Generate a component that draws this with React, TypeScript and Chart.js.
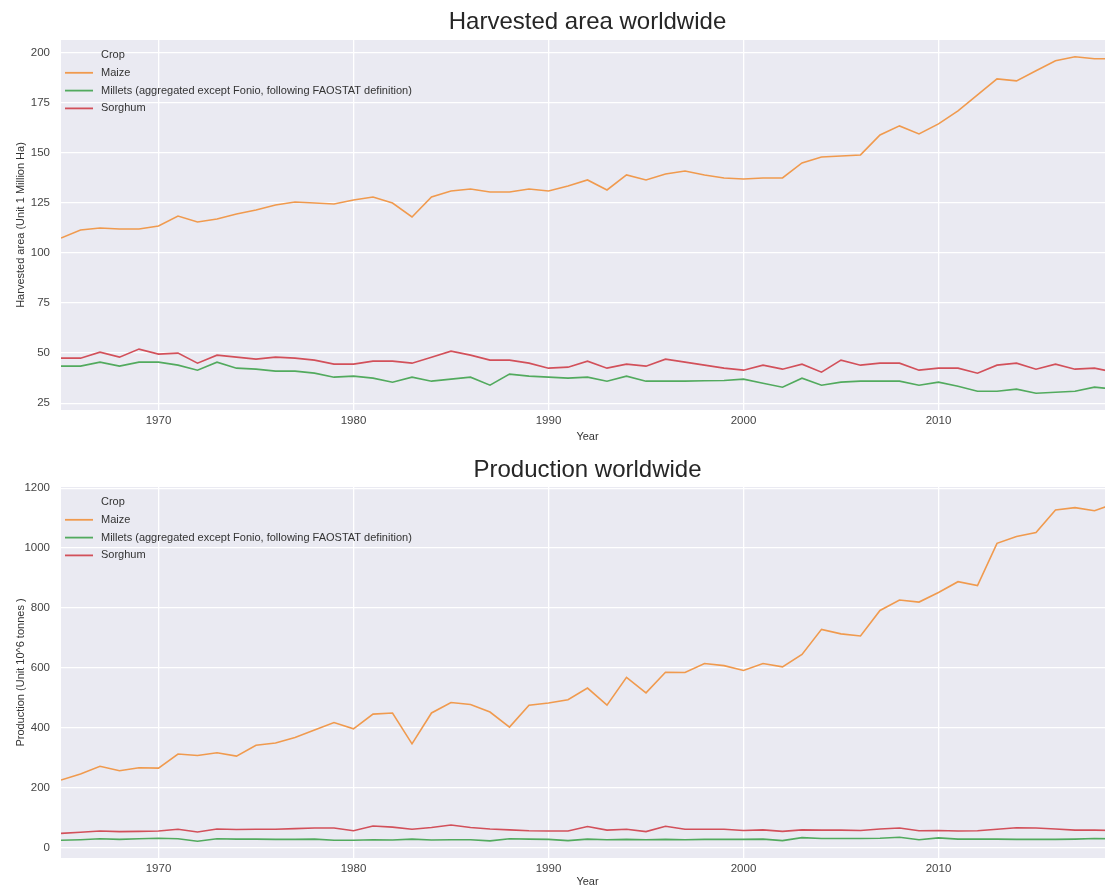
import React, { useEffect, useRef } from "react";
import { Chart, registerables } from "chart.js";

Chart.register(...registerables);

const years = [
  1965, 1966, 1967, 1968, 1969, 1970, 1971, 1972, 1973, 1974,
  1975, 1976, 1977, 1978, 1979, 1980, 1981, 1982, 1983, 1984,
  1985, 1986, 1987, 1988, 1989, 1990, 1991, 1992, 1993, 1994,
  1995, 1996, 1997, 1998, 1999, 2000, 2001, 2002, 2003, 2004,
  2005, 2006, 2007, 2008, 2009, 2010, 2011, 2012, 2013, 2014,
  2015, 2016, 2017, 2018, 2019,
];

const crops = [
  "Maize",
  "Millets (aggregated except Fonio, following FAOSTAT definition)",
  "Sorghum",
];

const maizeArea = [
  107.5, 111.5, 112.5, 112, 112, 113.5, 118.5, 115.5, 117, 119.5,
  121.5, 124, 125.5, 125, 124.5, 126.5, 128, 125, 118, 128,
  131, 132, 130.5, 130.5, 132, 131, 133.5, 136.5, 131.5, 139,
  136.5, 139.5, 141, 139, 137.5, 137, 137.5, 137.5, 145, 148,
  148.5, 149, 159, 163.5, 159.5, 164.5, 171, 179, 187, 186,
  191, 196, 198, 197, 197,
];
const milletArea = [
  43.5, 43.5, 45.5, 43.5, 45.5, 45.5, 44, 41.5, 45.5, 42.5,
  42, 41, 41, 40, 38, 38.5, 37.5, 35.5, 38, 36,
  37, 38, 34, 39.5, 38.5, 38, 37.5, 38, 36, 38.5,
  36, 36, 36, 36.2, 36.3, 37, 35, 33, 37.5, 34,
  35.5, 36, 36, 36, 34, 35.5, 33.5, 31, 31, 32,
  30, 30.5, 31, 33, 32,
];
const sorghumArea = [
  47.5, 47.5, 50.5, 48, 52, 49.5, 50, 45, 49, 48,
  47, 48, 47.5, 46.5, 44.5, 44.5, 46, 46, 45, 48,
  51, 49, 46.5, 46.5, 45, 42.5, 43, 46, 42.5, 44.5,
  43.5, 47, 45.5, 44, 42.5, 41.5, 44, 42, 44.5, 40.5,
  46.5, 44, 45, 45, 41.5, 42.5, 42.5, 40, 44, 45,
  42, 44.5, 42, 42.5, 40.5,
];

const maizeProd = [
  226, 246, 272, 257, 267, 266, 313, 308, 317, 306,
  342, 350, 368, 393, 418, 397, 446, 450, 347, 450,
  485, 478, 453, 403, 476, 483, 494, 533, 476, 569,
  517, 586, 585, 615, 608, 592, 615, 604, 645, 729,
  714, 707, 792, 827, 820, 852, 888, 875, 1016, 1039,
  1052, 1127, 1135, 1125, 1148,
];
const milletProd = [
  25, 27, 30, 28, 30, 32, 30, 22, 30, 29,
  29, 28, 28, 29, 25, 25, 27, 26, 29, 26,
  27, 27, 23, 30, 29, 28, 24, 29, 27, 28,
  27, 28, 27, 28, 28, 28, 29, 24, 34, 31,
  31, 31, 32, 35, 27, 33, 29, 29, 29, 28,
  28, 28, 29, 31, 30,
];
const sorghumProd = [
  48, 52, 56, 54, 55, 56, 62, 53, 63, 61,
  62, 62, 64, 66, 66, 57, 73, 69, 62, 68,
  76, 68, 63, 60, 57, 56, 56, 71, 59, 62,
  54, 72, 62, 62, 62, 58, 60, 55, 60, 59,
  59, 58, 63, 66, 57, 58, 56, 57, 62, 67,
  66, 63, 59, 59, 58,
];

const xTicks = [1970, 1980, 1990, 2000, 2010];
const areaTicks = [25, 50, 75, 100, 125, 150, 175, 200];
const prodTicks = [0, 200, 400, 600, 800, 1000, 1200];

const colors = ["#F09A4E", "#52AA5E", "#D2505A"];
const FONT = "'Liberation Sans', Arial, sans-serif";
const TEXT = "#333333";

function makeLegendPlugin() {
  return {
    id: "insideLegend",
    afterDraw(chart: any) {
      const { ctx, chartArea } = chart;
      const x0 = chartArea.left;
      const y0 = chartArea.top + 15;
      const step = 17.8;
      ctx.save();
      ctx.font = `11px ${FONT}`;
      ctx.fillStyle = TEXT;
      ctx.textBaseline = "middle";
      ctx.textAlign = "left";
      ctx.fillText("Crop", x0 + 40, y0);
      crops.forEach((c, i) => {
        const y = y0 + step * (i + 1);
        ctx.strokeStyle = colors[i];
        ctx.lineWidth = 1.8;
        ctx.beginPath();
        ctx.moveTo(x0 + 4, y);
        ctx.lineTo(x0 + 32, y);
        ctx.stroke();
        ctx.fillStyle = TEXT;
        ctx.fillText(c, x0 + 40, y);
      });
      ctx.restore();
    },
  };
}

const bgPlugin = {
  id: "bg",
  beforeDraw(chart: any) {
    const { ctx, chartArea } = chart;
    ctx.save();
    ctx.fillStyle = "#EAEAF2";
    ctx.fillRect(
      chartArea.left,
      chartArea.top,
      chartArea.right - chartArea.left,
      chartArea.bottom - chartArea.top
    );
    ctx.restore();
  },
};

type PanelProps = {
  title: string;
  yTitle: string;
  series: number[][];
  yMin: number;
  yMax: number;
  yTicks: number[];
  titlePad: { top: number; bottom: number };
  xAxisHeight: number;
};

function Panel(props: PanelProps) {
  const ref = useRef<HTMLCanvasElement | null>(null);
  useEffect(() => {
    if (!ref.current) return;
    const datasets = props.series.map((vals, i) => ({
      label: crops[i],
      data: years.map((yr, j) => ({ x: yr, y: vals[j] })),
      borderColor: colors[i],
      backgroundColor: colors[i],
      borderWidth: 1.6,
      pointRadius: 0,
      tension: 0,
      fill: false,
    }));
    const chart = new Chart(ref.current, {
      type: "line",
      data: { datasets },
      options: {
        animation: false,
        responsive: false,
        maintainAspectRatio: false,
        layout: { padding: { left: 0, right: 10, top: 0, bottom: 0 } },
        plugins: {
          legend: { display: false },
          tooltip: { enabled: false },
          title: {
            display: true,
            text: props.title,
            fullSize: false,
            color: "#262626",
            font: { family: FONT, size: 24, weight: "normal" },
            padding: props.titlePad,
          },
        },
        scales: {
          x: {
            type: "linear",
            min: 1965,
            max: 2019,
            afterBuildTicks: (axis: any) => {
              axis.ticks = xTicks.map((v) => ({ value: v }));
            },
            afterFit: (axis: any) => {
              axis.height = props.xAxisHeight;
            },
            ticks: {
              color: "#444",
              padding: 4,
              font: { family: FONT, size: 11.5 },
              callback: (v: any) => String(v),
              maxRotation: 0,
            },
            grid: { color: "#FFFFFF", lineWidth: 1.3, drawTicks: false },
            border: { display: false },
            title: {
              display: true,
              text: "Year",
              color: "#333",
              font: { family: FONT, size: 11 },
              padding: { top: 0, bottom: 1 },
            },
          },
          y: {
            type: "linear",
            min: props.yMin,
            max: props.yMax,
            afterBuildTicks: (axis: any) => {
              axis.ticks = props.yTicks.map((v) => ({ value: v }));
            },
            afterFit: (axis: any) => {
              axis.width = 61;
            },
            ticks: {
              color: "#444",
              padding: 11,
              font: { family: FONT, size: 11.5 },
              callback: (v: any) => String(v),
            },
            grid: { color: "#FFFFFF", lineWidth: 1.3, drawTicks: false },
            border: { display: false },
            title: {
              display: true,
              text: props.yTitle,
              color: "#333",
              font: { family: FONT, size: 11 },
              padding: { top: 14, bottom: 0 },
            },
          },
        },
      },
      plugins: [bgPlugin, makeLegendPlugin()],
    } as any);
    return () => chart.destroy();
  }, []);
  return (
    <canvas
      ref={ref}
      width={1124}
      height={445}
      style={{ display: "block", width: 1124, height: 445 }}
    />
  );
}

export default function App() {
  return (
    <div
      style={{
        position: "absolute",
        left: 0,
        top: 0,
        width: 1105,
        height: 890,
        overflow: "hidden",
        background: "#ffffff",
      }}
    >
      <Panel
        title="Harvested area worldwide"
        yTitle="Harvested area (Unit 1 Million Ha)"
        series={[maizeArea, milletArea, sorghumArea]}
        yMin={21.6}
        yMax={206.4}
        yTicks={areaTicks}
        titlePad={{ top: 8, bottom: 3.2 }}
        xAxisHeight={35}
      />
      <Panel
        title="Production worldwide"
        yTitle="Production (Unit 10^6 tonnes )"
        series={[maizeProd, milletProd, sorghumProd]}
        yMin={-34}
        yMax={1204}
        yTicks={prodTicks}
        titlePad={{ top: 11, bottom: 2.2 }}
        xAxisHeight={32}
      />
    </div>
  );
}
